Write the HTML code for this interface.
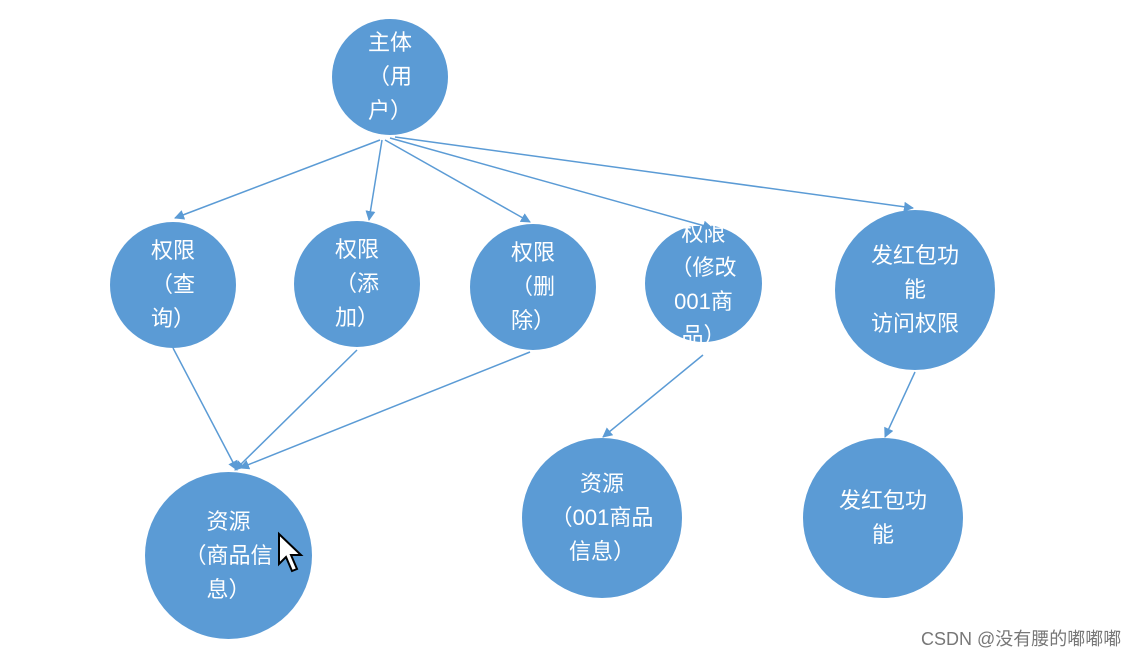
<!DOCTYPE html>
<html><head><meta charset="utf-8"><style>
html,body{margin:0;padding:0;background:#fff;width:1148px;height:656px;overflow:hidden}
.c{position:absolute;border-radius:50%;background:#5b9bd5;color:#fff;display:flex;align-items:center;justify-content:center;text-align:center;font-family:"Liberation Sans","Noto Sans CJK SC",sans-serif;font-size:22px;line-height:34px}
.wm{position:absolute;left:921px;top:625px;font-family:"Liberation Sans","Noto Sans CJK SC",sans-serif;font-size:18px;color:#777}
svg{position:absolute;left:0;top:0}
</style></head><body>
<div class="c" style="left:332px;top:19px;width:116px;height:116px">主体<br>（用<br>户）</div>
<div class="c" style="left:110px;top:222px;width:126px;height:126px">权限<br>（查<br>询）</div>
<div class="c" style="left:294px;top:221px;width:126px;height:126px">权限<br>（添<br>加）</div>
<div class="c" style="left:470px;top:224px;width:126px;height:126px">权限<br>（删<br>除）</div>
<div class="c" style="left:645px;top:225px;width:117px;height:117px;padding-top:2px;box-sizing:border-box">权限<br>（修改<br>001商<br>品）</div>
<div class="c" style="left:835px;top:210px;width:160px;height:160px">发红包功<br>能<br>访问权限</div>
<div class="c" style="left:145px;top:472px;width:167px;height:167px">资源<br>（商品信<br>息）</div>
<div class="c" style="left:522px;top:438px;width:160px;height:160px">资源<br>（001商品<br>信息）</div>
<div class="c" style="left:803px;top:438px;width:160px;height:160px">发红包功<br>能</div>
<svg width="1148" height="656">
<defs><marker id="a" markerWidth="10" markerHeight="10" refX="9" refY="5" orient="auto" markerUnits="userSpaceOnUse"><path d="M0,0 L10,5 L0,10 z" fill="#5b9bd5"/></marker></defs>
<g stroke="#5b9bd5" stroke-width="1.5" fill="none" marker-end="url(#a)">
<line x1="380" y1="140" x2="175" y2="218"/>
<line x1="382" y1="140" x2="369" y2="220"/>
<line x1="385" y1="140" x2="530" y2="222"/>
<line x1="390" y1="138" x2="712" y2="228"/>
<line x1="395" y1="137" x2="913" y2="208"/>
<line x1="173" y1="348" x2="237" y2="470"/>
<line x1="357" y1="350" x2="235" y2="470"/>
<line x1="530" y1="352" x2="240" y2="468"/>
<line x1="703" y1="355" x2="603" y2="437"/>
<line x1="915" y1="372" x2="885" y2="437"/>
</g>
<path d="M279,534 L279,564 L286,557 L292,571 L297,569 L291,555 L301,555 Z" fill="#fff" stroke="#000" stroke-width="2"/>
</svg>
<div class="wm">CSDN @没有腰的嘟嘟嘟</div>
</body></html>
